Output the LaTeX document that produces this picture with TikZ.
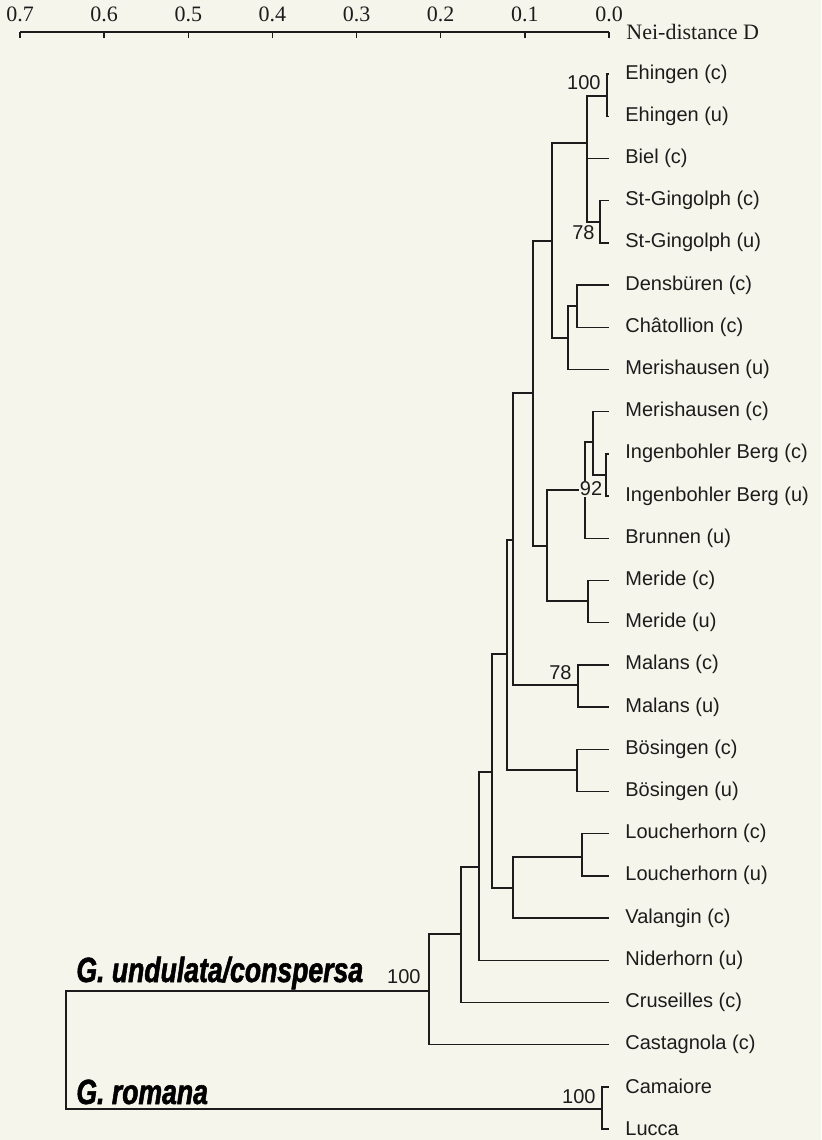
\documentclass[tikz,border=0pt]{standalone}
\usepackage{fontspec}
\setmainfont{Liberation Serif}
\setsansfont{Liberation Sans}
\newfontfamily\cladefont[FakeStretch=0.76,FakeBold=1.5]{Liberation Sans}
\usetikzlibrary{positioning}
\definecolor{cpaper}{RGB}{245,245,236}
\definecolor{cink}{RGB}{28,28,28}
\newcommand{\leafgap}{42.2}
\newcommand{\tickgap}{84.14}

\begin{document}
\begin{tikzpicture}[
    x=0.5pt, y=-0.5pt,
    branch/.style={draw=cink, line width=0.7pt},
    taxon/.style={font=\fontsize{10}{12}\selectfont\sffamily, text=cink, inner sep=0pt},
    boot/.style={font=\fontsize{10}{12}\selectfont\sffamily, text=cink, inner sep=0.5pt},
    clade/.style={font=\fontsize{17.5}{20}\selectfont\cladefont\bfseries\itshape, text=black, anchor=base west, inner sep=0pt},
    scalelbl/.style={font=\fontsize{11}{13}\selectfont\rmfamily, text=cink, inner sep=0pt},
]

% Paper
\fill[cpaper] (0,0) rectangle (821,1140);

% --- Distance scale (0.7 ... 0.0) ---
\draw[branch] (20,32) -- (609,32);
\foreach \k in {0,...,7} {
    \draw[branch] ({609-\tickgap*\k},32) -- ({609-\tickgap*\k},38);
    \node[scalelbl] (s\k) at ({609-\tickgap*\k},14) {0.\k};
}
\node[scalelbl, anchor=west] (dlabel) at (626,32) {Nei-distance D};

% --- Leaves: tip coordinate at D = 0, name to the right ---
\foreach \name [count=\i] in {Ehingen (c), Ehingen (u), Biel (c),
    St-Gingolph (c), St-Gingolph (u), Densbüren (c), Châtollion (c),
    Merishausen (u), Merishausen (c), Ingenbohler Berg (c),
    Ingenbohler Berg (u), Brunnen (u), Meride (c), Meride (u),
    Malans (c), Malans (u), Bösingen (c), Bösingen (u),
    Loucherhorn (c), Loucherhorn (u), Valangin (c), Niderhorn (u),
    Cruseilles (c), Castagnola (c), Camaiore, Lucca} {
    \coordinate (t\i) at (609,{74+(\i-1)*\leafgap});
    \node[taxon, right=8pt of t\i] (l\i) {\name};
}

% --- Internal nodes (x = depth, y = where the parent joins) ---
\coordinate (eh)  at (607,96);
\coordinate (sg)  at (600,222);
\coordinate (a)   at (587,143);
\coordinate (dc)  at (577,306);
\coordinate (b)   at (568,338);
\coordinate (ab)  at (552,241);
\coordinate (ig)  at (606,475);
\coordinate (e)   at (593,442);
\coordinate (d)   at (585,490);
\coordinate (me)  at (588,601);
\coordinate (c)   at (547,546);
\coordinate (abc) at (533,393);
\coordinate (ma)  at (578,685);
\coordinate (g)   at (513,540);
\coordinate (bo)  at (577,770);
\coordinate (h)   at (507,654);
\coordinate (lo)  at (582,857);
\coordinate (j)   at (513,888);
\coordinate (i)   at (492,772);
\coordinate (k)   at (479,867);
\coordinate (l)   at (461,934);
\coordinate (m)   at (429,991);
\coordinate (ro)  at (602,1109);
\coordinate (root) at (66,1050);

% Branches: parent |- child
\foreach \p/\c in {eh/t1, eh/t2, sg/t4, sg/t5, a/eh, a/t3, a/sg,
    dc/t6, dc/t7, b/dc, b/t8, ab/a, ab/b,
    ig/t10, ig/t11, e/t9, e/ig, d/e, d/t12, me/t13, me/t14, c/d, c/me,
    abc/ab, abc/c, ma/t15, ma/t16, g/abc, g/ma, bo/t17, bo/t18, h/g, h/bo,
    lo/t19, lo/t20, j/lo, j/t21, i/h, i/j, k/i, k/t22, l/k, l/t23,
    m/l, m/t24, ro/t25, ro/t26, root/m, root/ro} {
    \draw[branch] (\p) |- (\c);
}

% Bootstrap values
\node[boot, anchor=east] (bt1) at (602,83) {100};
\node[boot, anchor=east] (bt2) at (596,233) {78};
\node[boot, fill=cpaper] (bt3) at (591,489) {92};
\node[boot, anchor=east] (bt4) at (573,673) {78};
\node[boot, anchor=east] (bt5) at (422,977) {100};
\node[boot, anchor=east] (bt6) at (597,1097) {100};

% Clade names
\node[clade] (undul) at (76,982) {G. undulata/conspersa};
\node[clade] (roman) at (76,1104) {G. romana};

\end{tikzpicture}
\end{document}
